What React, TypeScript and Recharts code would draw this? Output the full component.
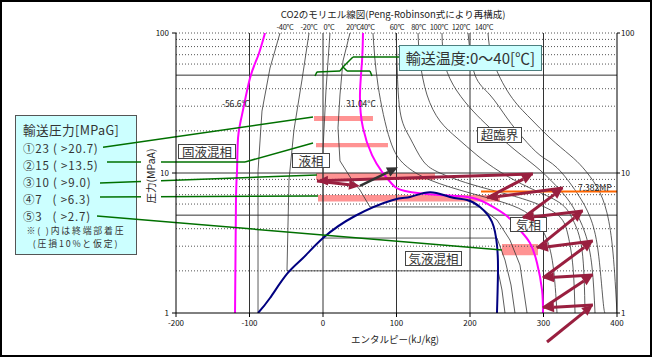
import React from "react";
import {
  ComposedChart,
  Line,
  XAxis,
  YAxis,
  ReferenceLine,
  ReferenceArea,
  ReferenceDot,
} from "recharts";

// [エンタルピー kJ/kg, 圧力 MPa]
type Pt = [number, number];

const X_TICKS = [-200, -100, 0, 100, 200, 300, 400];
const Y_TICKS = [1, 10, 100];
const X_GRID = [-100, 0, 100, 200, 300];
const Y_GRID_SOLID = [5, 10, 50];
const Y_GRID_DOT = [2, 3, 4, 6, 7, 8, 9, 20, 30, 40, 60, 70, 80, 90, 100];

// 飽和線
const SAT_DOME: Pt[] = [
  [-88.4, 1.0], [-72.1, 1.28], [-49.0, 1.9], [-27.2, 2.47], [0, 3.43], [43.5, 4.93],
  [95.2, 6.41], [118.4, 6.74], [145.6, 7.3], [172.8, 6.74], [195.9, 6.41],
  [213.6, 5.72], [229.9, 4.47], [236.7, 3.06], [238.1, 2.03], [236.7, 1.0],
];

// 三重点 -56.6℃, 臨界 31.04℃
const ISO_TRIPLE: Pt[] = [
  [-78.9, 100], [-88.4, 68.5], [-99.3, 47.7], [-110.2, 26.0], [-115.6, 17.8],
  [-117.0, 10.3], [-118.4, 6.41], [-119.7, 1],
];
const ISO_CRIT: Pt[] = [
  [54.4, 100], [53.1, 63.1], [50.3, 36.1], [54.4, 21.0], [66.7, 13.4], [80.3, 10.2],
  [93.9, 8.35], [111.6, 7.44], [159.2, 6.96], [204.1, 6.63], [231.3, 5.72], [251.7, 4.85],
  [268.0, 3.91], [281.6, 3.16], [291.2, 2.28], [298.0, 1.46], [299.3, 1.0],
];

// 等温線
const ISO_M40: Pt[] = [[-58.5, 100], [-72.1, 56.2], [-83.0, 27.7], [-88.4, 10.3], [-88.4, 1]];
const ISO_M20: Pt[] = [
  [-19.0, 100], [-28.6, 46.2], [-39.5, 20.3], [-46.3, 8.91], [-49.0, 2.0],
  [238.1, 2.0], [243.5, 1.46], [247.6, 1],
];
const ISO_0: Pt[] = [
  [9.5, 100], [4.1, 39.2], [0, 14.6], [0, 3.43], [236.7, 3.43], [247.6, 2.39],
  [255.8, 1.585], [261.2, 1],
];
const ISO_20: Pt[] = [
  [36.7, 100], [27.2, 63.1], [23.1, 36.1], [20.4, 21.0], [23.1, 12.2], [39.5, 8.91],
  [50.3, 7.56], [63.9, 5.72], [213.6, 5.72], [236.7, 4.62], [254.4, 3.32], [268.0, 2.2],
  [277.6, 1],
];
const ISO_40: Pt[] = [
  [68.0, 100], [74.8, 42.5], [91.2, 17.2], [111.6, 11.4], [145.6, 8.91], [200, 7.2],
  [247.6, 6.11], [281.6, 5.01], [302, 3.61], [312.9, 2.2], [318.4, 1],
];
const ISO_60: Pt[] = [
  [99.3, 100], [100.7, 63.1], [104.8, 27.7], [118.4, 17.8], [136.1, 12.2], [159.2, 10],
  [200, 8.35], [254.4, 6.96], [295.2, 5.91], [322.4, 4.85], [333.3, 3.61], [340.1, 2.13],
  [342.9, 1],
];
const ISO_80: Pt[] = [
  [129.3, 100], [132, 63.1], [141.5, 36.1], [159.2, 23.5], [182.3, 17.8], [209.5, 13.4],
  [240.8, 10.2], [281.6, 7.81], [322.4, 6.11], [340.1, 4.62], [352.4, 2.82], [356.5, 1],
];
const ISO_100: Pt[] = [
  [161.9, 100], [166, 59.1], [182.3, 38.5], [204.1, 27.7], [227.2, 21.0], [261.2, 14.6],
  [295.2, 10.5], [322.4, 7.56], [340.1, 5.72], [356.5, 3.73], [366, 2.13], [370.1, 1],
];
const ISO_120: Pt[] = [
  [197.3, 100], [206.8, 50.1], [227.2, 36.1], [250.3, 24.7], [272.1, 17.8], [295.2, 13.4],
  [318.4, 10.9], [345.6, 7.2], [363.3, 4.85], [374.1, 2.82], [380.9, 1.24], [383.7, 1],
];
const ISO_140: Pt[] = [
  [224.5, 100], [231.3, 63.1], [254.4, 36.1], [281.6, 24.7], [308.8, 17.8], [336.1, 13.4],
  [353.7, 10.9], [372.8, 7.94], [386.4, 5.18], [394.6, 2.68], [400, 1],
];
const SUB_ISOTHERMS = [ISO_M40, ISO_M20, ISO_0, ISO_20];
const SUPER_ISOTHERMS = [ISO_40, ISO_60, ISO_80, ISO_100, ISO_120, ISO_140];

const TEMP_LABELS = ["-40°C", "-20°C", "0°C", "20°C", "40°C", "60°C", "80°C", "100°C", "120°C", "140°C"];
const TEMP_LABEL_H = [-51.7, -19.0, 8.2, 41.5, 60.5, 100.7, 130, 157.8, 187.8, 219.0];

// 輸送圧力の帯
const BAND_H1 = [-12.2, -9.5, -9.5, -6.8, 243.5];
const BAND_H2 = [68.0, 88.4, 152.4, 240.8, 292.5];
const BAND_P_LO = [23.5, 15.3, 8.91, 6.27, 2.59];
const BAND_P_HI = [25.5, 16.4, 10.0, 6.96, 3.11];

const CRIT_P = 7.382;
const CRIT_H = [215, 400];

// 多段圧縮・冷却の経路
const FLOW_PATH: Pt[] = [
  [304.8, 0.621], [367.3, 1.14], [299.3, 1.086], [367.3, 1.87], [299.3, 1.78],
  [367.3, 3.27], [291.2, 2.91], [353.7, 5.35], [272.1, 4.77], [326.5, 7.81],
  [223.1, 6.63], [285.7, 9.84], [-8.2, 8.77], [50.3, 8.08],
];
const PUMP_PATH: Pt[] = [[50.3, 8.08], [102, 11.0]];

// 引き出し線
const LEADERS: Pt[][] = [
  [[-299.3, 15.3], [-13.6, 25.1]],
  [[-293.9, 12.0], [-106.1, 12.0], [-13.6, 16.4]],
  [[-303.4, 8.48], [-8.2, 9.68]],
  [[-303.4, 6.74], [-6.8, 6.85]],
  [[-307.5, 4.93], [243.5, 2.82]],
  [[-10.9, 49.3], [-8.2, 52.7], [23.1, 53.5], [27.2, 57.2], [40.8, 67.4], [103.4, 67.4]],
  [[27.2, 57.2], [32.7, 53.5], [63.9, 53.5], [66.7, 49.3]],
];

const PRESS_LINES = [
  "①23 ( >20.7)",
  "②15 ( >13.5)",
  "③10 ( >9.0)",
  "④7   ( >6.3)",
  "⑤3   ( >2.7)",
];
const PRESS_LINE_Y = [147.5, 164.5, 181.5, 198.5, 215.5];

const FONT = "'Noto Sans CJK JP', 'Noto Sans', sans-serif";
const MARGIN = { top: 33, right: 11, bottom: 22, left: 146 };

const toObj = (pts: Pt[]) => pts.map(([h, p]) => ({ h, p }));
const segs = (pts: Pt[]) => pts.slice(1).map((p, i) => [pts[i], p] as [Pt, Pt]);

const arrowShape = (color: string, w: number) => (props: any) => {
  const { x1, y1, x2, y2 } = props;
  if ([x1, y1, x2, y2].some((v) => typeof v !== "number" || isNaN(v))) return <g />;
  const a = Math.atan2(y2 - y1, x2 - x1);
  const len = 11;
  const half = 5;
  const bx = x2 - len * Math.cos(a);
  const by = y2 - len * Math.sin(a);
  const nx = -Math.sin(a) * half;
  const ny = Math.cos(a) * half;
  return (
    <g>
      <line x1={x1} y1={y1} x2={bx} y2={by} stroke={color} strokeWidth={w} />
      <polygon points={`${x2},${y2} ${bx + nx},${by + ny} ${bx - nx},${by - ny}`} fill={color} />
    </g>
  );
};

const axes = (show: boolean) => [
  <XAxis
    key="x"
    dataKey="h"
    type="number"
    domain={[-200, 400]}
    allowDataOverflow
    ticks={X_TICKS}
    interval={0}
    height={22}
    tick={show ? { fontSize: 8, fill: "#111" } : false}
    tickLine={show ? { stroke: "#000" } : false}
    axisLine={show ? { stroke: "#000" } : false}
    tickSize={4}
    tickMargin={3}
  />,
  <YAxis
    key="yl"
    type="number"
    scale="log"
    domain={[1, 100]}
    allowDataOverflow
    ticks={Y_TICKS}
    interval={0}
    width={30}
    tick={show ? { fontSize: 8, fill: "#111" } : false}
    tickLine={show ? { stroke: "#000" } : false}
    axisLine={show ? { stroke: "#000" } : false}
    tickSize={4}
    tickMargin={3}
    tickFormatter={(v: number) => String(v)}
  />,
  <YAxis
    key="yr"
    yAxisId="r"
    orientation="right"
    type="number"
    scale="log"
    domain={[1, 100]}
    allowDataOverflow
    ticks={Y_TICKS}
    interval={0}
    width={24}
    tick={show ? { fontSize: 8, fill: "#111" } : false}
    tickLine={show ? { stroke: "#000" } : false}
    axisLine={show ? { stroke: "#000" } : false}
    tickSize={3}
    tickMargin={1}
    tickFormatter={(v: number) => String(v)}
  />,
];

const boxStyle: React.CSSProperties = {
  position: "absolute",
  background: "#fff",
  border: "1px solid #444",
  boxSizing: "border-box",
  fontSize: 12.5,
  color: "#333",
  textAlign: "center",
  whiteSpace: "nowrap",
};

const PHASE_BOXES = [
  { text: "固液混相", left: 178, top: 144, w: 58, h: 15 },
  { text: "液相", left: 292, top: 153, w: 38, h: 15 },
  { text: "超臨界", left: 477, top: 127, w: 45, h: 16 },
  { text: "気相", left: 510, top: 217, w: 37, h: 15 },
  { text: "気液混相", left: 405, top: 251, w: 57, h: 15 },
];

const noteStyle: React.CSSProperties = {
  position: "absolute",
  left: 0,
  width: 120,
  fontSize: 8.9,
  lineHeight: "13px",
  letterSpacing: 1.8,
  textAlign: "center",
  whiteSpace: "nowrap",
};

export default function App() {
  return (
    <div
      style={{
        position: "absolute",
        left: 0,
        top: 0,
        width: 652,
        height: 357,
        background: "#fff",
        fontFamily: FONT,
        overflow: "hidden",
      }}
    >
      <div
        style={{
          position: "absolute",
          inset: 0,
          border: "2px solid #000",
          boxSizing: "border-box",
        }}
      />
      {/* 輸送圧力の凡例 */}
      <div
        style={{
          position: "absolute",
          left: 15,
          top: 115,
          width: 122,
          height: 140,
          background: "#ccffff",
          border: "1px solid #555",
          boxSizing: "border-box",
          color: "#333",
        }}
      >
        <div
          style={{
            position: "absolute",
            left: 7,
            top: 130 - 116 - 9,
            fontSize: 12.6,
            lineHeight: "18px",
            letterSpacing: 0.4,
            whiteSpace: "nowrap",
          }}
        >
          輸送圧力[MPaG]
        </div>
        {PRESS_LINES.map((t, i) => (
          <div
            key={t}
            style={{
              position: "absolute",
              left: 7,
              top: PRESS_LINE_Y[i] - 116 - 8,
              fontSize: 11.5,
              lineHeight: "16px",
              letterSpacing: 0.8,
              whiteSpace: "pre",
            }}
          >
            {t}
          </div>
        ))}
        <div style={{ ...noteStyle, top: 230.8 - 116 - 6.5 }}>※( )内は終端部着圧</div>
        <div style={{ ...noteStyle, top: 243.8 - 116 - 6.5 }}>(圧損10%と仮定)</div>
      </div>

      <div style={{ position: "absolute", left: 0, top: 0 }}>
        <ComposedChart width={652} height={357} margin={MARGIN}>
          {axes(true)}
          {X_GRID.map((x) => (
            <ReferenceLine key={`gx${x}`} x={x} stroke="#333" strokeWidth={1} />
          ))}
          {Y_GRID_SOLID.map((y) => (
            <ReferenceLine key={`gs${y}`} y={y} stroke="#333" strokeWidth={1} />
          ))}
          {Y_GRID_DOT.map((y) => (
            <ReferenceLine key={`gd${y}`} y={y} stroke="#555" strokeWidth={1} strokeDasharray="1 2" />
          ))}
          {SUB_ISOTHERMS.map((pts, i) => (
            <Line
              key={`sub${i}`}
              data={toObj(pts)}
              dataKey="p"
              type="linear"
              stroke="#333"
              strokeWidth={0.8}
              dot={false}
              activeDot={false}
              isAnimationActive={false}
            />
          ))}
          {SUPER_ISOTHERMS.map((pts, i) => (
            <Line
              key={`sup${i}`}
              data={toObj(pts)}
              dataKey="p"
              type="natural"
              stroke="#333"
              strokeWidth={0.8}
              dot={false}
              activeDot={false}
              isAnimationActive={false}
            />
          ))}
          {BAND_H1.map((h1, i) => (
            <ReferenceArea
              key={`band${i}`}
              x1={h1}
              x2={BAND_H2[i]}
              y1={BAND_P_LO[i]}
              y2={BAND_P_HI[i]}
              fill="#ff6f6f"
              fillOpacity={0.75}
              stroke="none"
              ifOverflow="visible"
            />
          ))}
          <ReferenceLine
            segment={[
              { x: CRIT_H[0], y: CRIT_P },
              { x: CRIT_H[1], y: CRIT_P },
            ]}
            stroke="#ff6600"
            strokeWidth={2}
          />
          <Line data={toObj(ISO_TRIPLE)} dataKey="p" type="natural" stroke="#ff00ff" strokeWidth={2} dot={false} activeDot={false} isAnimationActive={false} />
          <Line data={toObj(ISO_CRIT)} dataKey="p" type="natural" stroke="#ff00ff" strokeWidth={2} dot={false} activeDot={false} isAnimationActive={false} />
          <Line data={toObj(SAT_DOME)} dataKey="p" type="natural" stroke="#000080" strokeWidth={2} dot={false} activeDot={false} isAnimationActive={false} />
          {LEADERS.flatMap((pts, i) =>
            segs(pts).map(([a, b], j) => (
              <ReferenceLine
                key={`ld${i}-${j}`}
                segment={[
                  { x: a[0], y: a[1] },
                  { x: b[0], y: b[1] },
                ]}
                stroke="#007000"
                strokeWidth={1.5}
                ifOverflow="visible"
              />
            ))
          )}
          {TEMP_LABELS.map((t, i) => (
            <ReferenceDot
              key={t}
              x={TEMP_LABEL_H[i]}
              y={100}
              r={0}
              fill="none"
              stroke="none"
              ifOverflow="visible"
              label={{ value: t, position: "top", offset: 3, fontSize: 7.5, fill: "#222", letterSpacing: -0.3 }}
            />
          ))}
          <ReferenceDot
            x={-118.4}
            y={31.1}
            r={0}
            fill="none"
            stroke="none"
            label={{ value: "-56.6°C", position: "center", fontSize: 8.5, fill: "#222" }}
          />
          <ReferenceDot
            x={51.7}
            y={31.1}
            r={0}
            fill="none"
            stroke="none"
            label={{ value: "31.04°C", position: "center", fontSize: 8.5, fill: "#222" }}
          />
        </ComposedChart>
      </div>

      {/* 相の表示 */}
      {PHASE_BOXES.map((b) => (
        <div
          key={b.text}
          style={{ ...boxStyle, left: b.left, top: b.top, width: b.w, height: b.h, lineHeight: `${b.h - 2}px` }}
        >
          {b.text}
        </div>
      ))}
      <div
        style={{
          position: "absolute",
          left: 399,
          top: 45,
          width: 143,
          height: 26,
          background: "#ccffff",
          border: "1px solid #4d7f7f",
          boxSizing: "border-box",
          fontSize: 15,
          lineHeight: "24px",
          color: "#333",
          textAlign: "center",
          whiteSpace: "nowrap",
        }}
      >
        輸送温度:0～40[℃]
      </div>
      <div
        style={{
          position: "absolute",
          left: 243,
          width: 300,
          top: 7,
          fontSize: 9.5,
          lineHeight: "14px",
          color: "#222",
          textAlign: "center",
          whiteSpace: "nowrap",
        }}
      >
        CO2のモリエル線図(Peng-Robinson式により再構成)
      </div>
      <div
        style={{
          position: "absolute",
          left: 295,
          width: 200,
          top: 332,
          fontSize: 9.5,
          lineHeight: "14px",
          color: "#222",
          textAlign: "center",
          whiteSpace: "nowrap",
        }}
      >
        エンタルピー(kJ/kg)
      </div>
      <div
        style={{
          position: "absolute",
          left: 123,
          top: 166,
          width: 56,
          height: 20,
          transform: "rotate(-90deg)",
          background: "#fff",
          fontSize: 10.5,
          lineHeight: "20px",
          color: "#222",
          textAlign: "center",
          whiteSpace: "nowrap",
        }}
      >
        圧力(MPaA)
      </div>
      <div
        style={{
          position: "absolute",
          left: 578,
          top: 182,
          fontSize: 8.5,
          lineHeight: "10px",
          color: "#222",
          whiteSpace: "nowrap",
        }}
      >
        7.382MP
      </div>

      {/* 矢印は最前面 */}
      <div style={{ position: "absolute", left: 0, top: 0, pointerEvents: "none" }}>
        <ComposedChart width={652} height={357} margin={MARGIN}>
          {axes(false)}
          {segs(FLOW_PATH).map(([a, b], i) => (
            <ReferenceLine
              key={`fl${i}`}
              segment={[
                { x: a[0], y: a[1] },
                { x: b[0], y: b[1] },
              ]}
              ifOverflow="visible"
              shape={arrowShape("#991f3f", 3)}
            />
          ))}
          {segs(PUMP_PATH).map(([a, b], i) => (
            <ReferenceLine
              key={`pm${i}`}
              segment={[
                { x: a[0], y: a[1] },
                { x: b[0], y: b[1] },
              ]}
              ifOverflow="visible"
              shape={arrowShape("#333", 2.5)}
            />
          ))}
        </ComposedChart>
      </div>
    </div>
  );
}
